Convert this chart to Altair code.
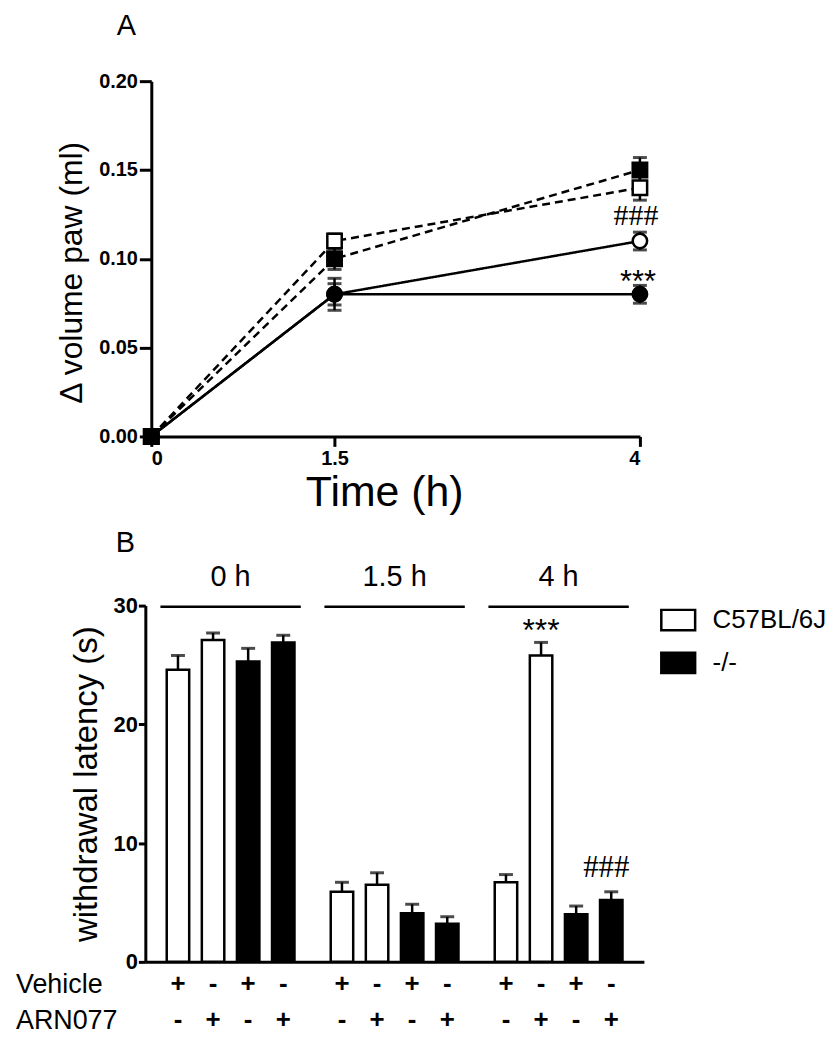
import altair as alt
import pandas as pd

FONT = "Liberation Sans"

# ---------------- Panel A data ----------------
times = [0, 1.5, 4]
series_names = ["Open circle", "Filled circle", "Open square", "Filled square"]
open_circle = [0.0, 0.080, 0.110]
filled_circle = [0.0, 0.080, 0.080]
open_square = [0.0, 0.110, 0.140]
filled_square = [0.0, 0.100, 0.150]
open_circle_err = [0.0, 0.006, 0.005]
filled_circle_err = [0.0, 0.009, 0.005]
open_square_err = [0.0, 0.004, 0.007]
filled_square_err = [0.0, 0.006, 0.007]

ann_a_text = ["###", "***"]
ann_a_time = [4, 4]
ann_a_value = [0.1238, 0.0865]

# ---------------- Panel B data ----------------
groups = ["0 h", "1.5 h", "4 h"]
slots = ["1", "2", "3", "4"]
slot_strain = ["C57BL/6J", "C57BL/6J", "-/-", "-/-"]
slot_vehicle = ["+", "-", "+", "-"]
slot_arn = ["-", "+", "-", "+"]
latency = {
    "0 h": [24.6, 27.1, 25.3, 26.9],
    "1.5 h": [5.9, 6.5, 4.1, 3.2],
    "4 h": [6.7, 25.8, 4.0, 5.2],
}
latency_err = {
    "0 h": [1.2, 0.6, 1.1, 0.6],
    "1.5 h": [0.8, 1.0, 0.75, 0.6],
    "4 h": [0.65, 1.1, 0.7, 0.7],
}
strains = ["C57BL/6J", "-/-"]
ann_b_text = ["***", "###"]
ann_b_group = ["4 h", "4 h"]
ann_b_slot = ["2", "4"]
ann_b_value = [27.85, 7.9]
row_labels = ["Vehicle", "ARN077"]
panel_labels = ["A", "B"]

# ---------------- build tables ----------------
vals = [open_circle, filled_circle, open_square, filled_square]
errs = [open_circle_err, filled_circle_err, open_square_err, filled_square_err]
rows = []
for name, v, e in zip(series_names, vals, errs):
    for t, vv, ee in zip(times, v, e):
        rows.append({"series": name, "t": t, "v": vv, "err": ee})
dfA = pd.DataFrame(rows)
dfAnnA = pd.DataFrame({"label": ann_a_text, "t": ann_a_time, "v": ann_a_value})

rowsB = []
for g in groups:
    for i, s in enumerate(slots):
        rowsB.append({"group": g, "slot": s, "strain": slot_strain[i],
                      "value": latency[g][i], "err": latency_err[g][i],
                      "veh": slot_vehicle[i], "arn": slot_arn[i]})
dfB = pd.DataFrame(rowsB)
dfG = pd.DataFrame({"group": groups})
dfAnnB = pd.DataFrame({"label": ann_b_text, "group": ann_b_group,
                       "slot": ann_b_slot, "value": ann_b_value})
one = pd.DataFrame({"a": [0]})

# ---------------- Panel A ----------------
WA, HA = 497, 357
xA = alt.X("t:Q", scale=alt.Scale(domain=[0, 4], nice=False, range=[6, WA]),
           axis=alt.Axis(values=times, format="~g", title="Time (h)", grid=False,
                         labelFontWeight="bold", labelFontSize=20, labelPadding=2,
                         titleFontSize=43, titleFontWeight="normal", titlePadding=3, titleX=240,
                         tickSize=10, tickWidth=3, domainWidth=3,
                         domainColor="black", tickColor="black", labelColor="black", titleColor="black"))
yA = alt.Y("v:Q", scale=alt.Scale(domain=[0, 0.2], nice=False),
           axis=alt.Axis(values=[0, 0.05, 0.10, 0.15, 0.20], format=".2f", grid=False,
                         title="Δ volume paw (ml)", offset=-6, titleY=192,
                         labelFontWeight="bold", labelFontSize=20, labelPadding=2,
                         titleFontSize=32, titleFontWeight="normal", titlePadding=10,
                         tickSize=12, tickWidth=3, domainWidth=3,
                         domainColor="black", tickColor="black", labelColor="black", titleColor="black"))

baseA = alt.Chart(dfA)
linesA = baseA.mark_line(color="black", strokeWidth=2.5).encode(
    x=xA, y=yA, detail="series:N",
    strokeDash=alt.StrokeDash("series:N", scale=alt.Scale(
        domain=series_names, range=[[1, 0], [1, 0], [8, 5], [8, 5]]), legend=None))
errA = baseA.transform_filter("datum.err > 0").transform_calculate(
    lo="datum.v - datum.err", hi="datum.v + datum.err")
errRuleA = errA.mark_rule(color="black", strokeWidth=2.5).encode(
    x="t:Q", y="lo:Q", y2="hi:Q")
capLoA = errA.mark_tick(color="black", thickness=3, size=14, orient="horizontal").encode(
    x="t:Q", y="lo:Q")
capHiA = errA.mark_tick(color="black", thickness=3, size=14, orient="horizontal").encode(
    x="t:Q", y="hi:Q")
pointsA = baseA.mark_point(filled=True, stroke="black", strokeWidth=2.5, size=210, opacity=1).encode(
    x="t:Q", y="v:Q",
    shape=alt.Shape("series:N", scale=alt.Scale(domain=series_names,
                    range=["circle", "circle", "square", "square"]), legend=None),
    fill=alt.Fill("series:N", scale=alt.Scale(domain=series_names,
                  range=["white", "black", "white", "black"]), legend=None))
annHashA = alt.Chart(dfAnnA).transform_filter("datum.label == '###'").mark_text(
    font="Liberation Serif", fontSize=30, color="black", baseline="middle", dx=-4).encode(
    x="t:Q", y="v:Q", text="label:N")
annStarA = alt.Chart(dfAnnA).transform_filter("datum.label == '***'").mark_text(
    font=FONT, fontSize=31, color="black", baseline="middle", dx=-2).encode(
    x="t:Q", y="v:Q", text="label:N")
labelA = alt.Chart(pd.DataFrame({"p": panel_labels[:1]})).mark_text(
    font=FONT, fontSize=29, color="black", align="center", baseline="middle").encode(
    x=alt.value(-19), y=alt.value(-55), text="p:N")
anchorA = alt.Chart(one).mark_rect(opacity=0).encode(
    x=alt.value(0), x2=alt.value(1), y=alt.value(-76), y2=alt.value(-75))

panelA = alt.layer(anchorA, linesA, errRuleA, capLoA, capHiA, pointsA, annHashA, annStarA, labelA
                   ).properties(width=WA, height=HA, view=alt.ViewBackground(stroke=None))

# ---------------- Panel B ----------------
WB, HB = 501, 358
xB = alt.X("group:N", scale=alt.Scale(domain=groups, paddingInner=0.144, paddingOuter=0.092),
           axis=alt.Axis(labels=False, ticks=False, title=None, domainWidth=3, domainColor="black"))
xOffB = alt.XOffset("slot:N", scale=alt.Scale(domain=slots, paddingInner=0.36, paddingOuter=0.18))
yB = alt.Y("value:Q", scale=alt.Scale(domain=[0, 30], nice=False),
           axis=alt.Axis(values=[0, 10, 20, 30], grid=False, title="withdrawal latency (s)",
                         labelFontWeight="bold", labelFontSize=22, labelPadding=1,
                         titleFontSize=33, titleFontWeight="normal", titlePadding=10,
                         tickSize=7, tickWidth=3, domainWidth=3,
                         domainColor="black", tickColor="black", labelColor="black", titleColor="black"))

baseB = alt.Chart(dfB)
errB = baseB.transform_calculate(top="datum.value + datum.err")
errRuleB = errB.mark_rule(color="black", strokeWidth=2.5).encode(
    x=xB, xOffset=xOffB, y="value:Q", y2="top:Q")
capB = errB.mark_tick(color="black", thickness=3, size=14, orient="horizontal").encode(
    x=xB, xOffset=xOffB, y="top:Q")
barsB = baseB.mark_bar(stroke="black", strokeWidth=2.5).encode(
    x=xB, xOffset=xOffB, y=yB,
    fill=alt.Fill("strain:N", scale=alt.Scale(domain=strains, range=["white", "black"]),
                  legend=alt.Legend(orient="none", legendX=517, legendY=-4, title=None,
                                    labelFontSize=26, labelFont=FONT, labelColor="black",
                                    symbolType="M-1,-0.6H1V0.6H-1Z", symbolSize=1156,
                                    symbolStrokeColor="black", symbolStrokeWidth=2.5,
                                    rowPadding=9, labelOffset=16, padding=0)))
bracketB = alt.Chart(dfG).mark_rect(color="black").encode(
    x=xB, y=alt.datum(30), y2=alt.datum(29.8))
groupLabB = alt.Chart(dfG).mark_text(font=FONT, fontSize=29, color="black", baseline="middle").encode(
    x=xB, y=alt.value(-29), text="group:N")
vehB = baseB.mark_text(font=FONT, fontSize=26, fontWeight="bold", color="black", baseline="middle").encode(
    x=xB, xOffset=xOffB, y=alt.value(380), text="veh:N")
arnB = baseB.mark_text(font=FONT, fontSize=26, fontWeight="bold", color="black", baseline="middle").encode(
    x=xB, xOffset=xOffB, y=alt.value(416), text="arn:N")
rowVeh = alt.Chart(pd.DataFrame({"r": row_labels[:1]})).mark_text(
    font=FONT, fontSize=27, color="black", align="left", baseline="middle").encode(
    x=alt.value(-130), y=alt.value(381), text="r:N")
rowArn = alt.Chart(pd.DataFrame({"r": row_labels[1:]})).mark_text(
    font=FONT, fontSize=27, color="black", align="left", baseline="middle").encode(
    x=alt.value(-130), y=alt.value(417), text="r:N")
annHashB = alt.Chart(dfAnnB).transform_filter("datum.label == '###'").mark_text(
    font="Liberation Serif", fontSize=31, color="black", baseline="middle", dx=-5).encode(
    x=xB, xOffset=xOffB, y="value:Q", text="label:N")
annStarB = alt.Chart(dfAnnB).transform_filter("datum.label == '***'").mark_text(
    font=FONT, fontSize=32, color="black", baseline="middle").encode(
    x=xB, xOffset=xOffB, y="value:Q", text="label:N")
labelB = alt.Chart(pd.DataFrame({"p": panel_labels[1:]})).mark_text(
    font=FONT, fontSize=29, color="black", align="center", baseline="middle").encode(
    x=alt.value(-20), y=alt.value(-63), text="p:N")
anchorB = alt.Chart(one).mark_rect(opacity=0).encode(
    x=alt.value(-138), x2=alt.value(-137), y=alt.value(100), y2=alt.value(101))

panelB = alt.layer(anchorB, barsB, errRuleB, capB, bracketB, groupLabB, vehB, arnB, rowVeh, rowArn,
                   annHashB, annStarB, labelB).properties(width=WB, height=HB,
                                                          view=alt.ViewBackground(stroke=None))

chart = alt.vconcat(panelA, panelB, spacing=170, bounds="flush").resolve_scale(
    fill="independent", shape="independent", strokeDash="independent", x="independent", y="independent"
).properties(
    padding={"left": 0, "top": -5, "right": 0, "bottom": 3}
).configure_view(stroke=None).configure_axis(
    labelFont=FONT, titleFont=FONT, labelColor="black", titleColor="black",
    domainColor="black", tickColor="black"
).configure(background="white")

chart.save("out.html", embed_options={"renderer": "svg", "actions": False})
